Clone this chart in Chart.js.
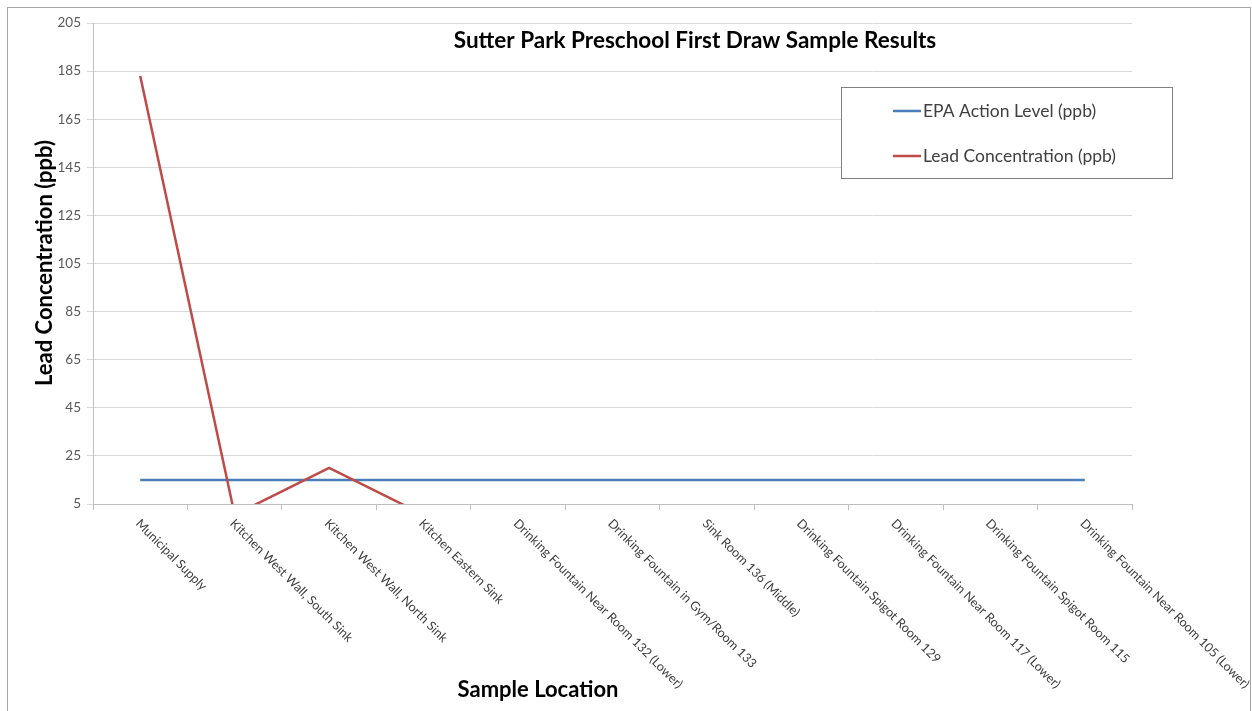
<!DOCTYPE html>
<html><head><meta charset="utf-8">
<script src="https://cdn.jsdelivr.net/npm/chart.js@4"></script>
<style>html,body{margin:0;padding:0;background:#fff}canvas{display:block}</style>
</head><body>
<canvas id="c" width="1252" height="711"></canvas>
<script>
const categories = [
  'Municipal Supply',
  'Kitchen West Wall, South Sink',
  'Kitchen West Wall, North Sink',
  'Kitchen Eastern Sink',
  'Drinking Fountain Near Room 132 (Lower)',
  'Drinking Fountain in Gym/Room 133',
  'Sink Room 136 (Middle)',
  'Drinking Fountain Spigot Room 129',
  'Drinking Fountain Near Room 117 (Lower)',
  'Drinking Fountain Spigot Room 115',
  'Drinking Fountain Near Room 105 (Lower)'
];
const epaActionLevel = [15, 15, 15, 15, 15, 15, 15, 15, 15, 15, 15];
const leadConcentration = [183, 0.5, 20, 0.5, 0.5, 0.5, 0.5, 0.5, 0.5, 0.5, 0.5];
const yTickValues = [5, 25, 45, 65, 85, 105, 125, 145, 165, 185, 205];
const chartTitle = 'Sutter Park Preschool First Draw Sample Results';
const yAxisTitle = 'Lead Concentration (ppb)';
const xAxisTitle = 'Sample Location';
const seriesNames = ['EPA Action Level (ppb)', 'Lead Concentration (ppb)'];

const FONT = 'Lato, "Open Sans", "DejaVu Sans", sans-serif';

const decor = {
  id: 'decor',
  beforeDraw(chart) {
    const ctx = chart.ctx;
    ctx.save();
    ctx.fillStyle = '#ffffff';
    ctx.fillRect(0, 0, chart.width, chart.height);
    ctx.strokeStyle = '#a6a6a6';
    ctx.lineWidth = 1;
    ctx.strokeRect(7.5, 7.5, 1243, 730);
    ctx.restore();
  },
  afterDraw(chart) {
    const ctx = chart.ctx;
    const xs = chart.scales.x;
    const area = chart.chartArea;
    ctx.save();
    // title
    ctx.fillStyle = '#000';
    ctx.font = 'bold 22.5px ' + FONT;
    ctx.textAlign = 'center';
    ctx.textBaseline = 'middle';
    ctx.fillText(chartTitle, 695, 41);
    // x axis title
    ctx.font = 'bold 22px ' + FONT;
    ctx.fillText(xAxisTitle, 538, 690);
    // y axis title
    ctx.save();
    ctx.translate(45, 263);
    ctx.rotate(-Math.PI / 2);
    ctx.fillText(yAxisTitle, 0, 0);
    ctx.restore();
    // x category labels
    ctx.font = '12.6px ' + FONT;
    ctx.fillStyle = '#404040';
    ctx.textAlign = 'left';
    ctx.textBaseline = 'top';
    chart.data.labels.forEach((lab, i) => {
      const cx = xs.getPixelForValue(i);
      ctx.save();
      ctx.translate(cx + 2, area.bottom + 13);
      ctx.rotate(Math.PI / 4);
      ctx.fillText(lab, 0, 0);
      ctx.restore();
    });
    // legend
    ctx.fillStyle = '#fff';
    ctx.fillRect(841.5, 87.5, 331, 91);
    ctx.strokeStyle = '#808080';
    ctx.lineWidth = 1;
    ctx.strokeRect(841.5, 87.5, 331, 91);
    ctx.font = '17.5px ' + FONT;
    ctx.textBaseline = 'middle';
    const ys = [111, 156];
    chart.data.datasets.forEach((ds, i) => {
      ctx.strokeStyle = ds.borderColor;
      ctx.lineWidth = 2.5;
      ctx.beginPath();
      ctx.moveTo(893, ys[i]);
      ctx.lineTo(921, ys[i]);
      ctx.stroke();
      ctx.fillStyle = '#404040';
      ctx.fillText(ds.label, 923, ys[i]);
    });
    ctx.restore();
  }
};

new Chart(document.getElementById('c'), {
  type: 'line',
  data: {
    labels: categories,
    datasets: [
      { label: seriesNames[0], data: epaActionLevel, borderColor: '#4a7ebb', backgroundColor: '#4a7ebb',
        borderWidth: 2.5, pointRadius: 0, tension: 0, clip: 0, order: 2 },
      { label: seriesNames[1], data: leadConcentration, borderColor: '#be4b48', backgroundColor: '#be4b48',
        borderWidth: 2.5, pointRadius: 0, tension: 0, clip: 0, order: 1 }
    ]
  },
  options: {
    responsive: false,
    animation: false,
    devicePixelRatio: 1,
    layout: { padding: { top: 23, right: 120, left: 0, bottom: 0 } },
    plugins: { legend: { display: false }, title: { display: false }, tooltip: { enabled: false } },
    scales: {
      x: {
        offset: true,
        grid: { offset: true, drawOnChartArea: false, drawTicks: true, tickLength: 6, color: '#bfbfbf' },
        border: { color: '#bfbfbf' },
        ticks: { autoSkip: false, maxRotation: 0, minRotation: 0, callback: () => '' },
        afterFit(s) { s.height = 207; }
      },
      y: {
        min: 5, max: 205,
        afterBuildTicks(s) { s.ticks = yTickValues.map(v => ({ value: v })); },
        grid: { color: '#d9d9d9', tickLength: 6 },
        border: { color: '#bfbfbf' },
        ticks: { color: '#595959', font: { family: FONT, size: 13.5 }, padding: 6 },
        afterFit(s) { s.width = 93; }
      }
    }
  },
  plugins: [decor]
});
</script>
</body></html>
